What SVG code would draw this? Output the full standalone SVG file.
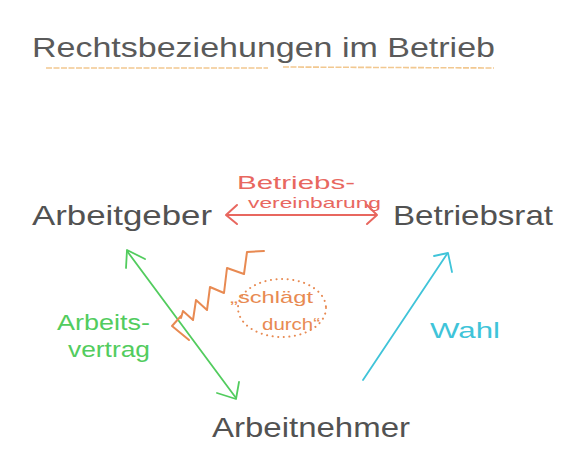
<svg xmlns="http://www.w3.org/2000/svg" width="576" height="462" viewBox="0 0 576 462">
<style>
text{font-family:"Liberation Sans","DejaVu Sans",sans-serif;}
.node{fill:#525252;font-size:28px;}
.red{stroke:#e8675f;fill:none;stroke-width:2;stroke-linecap:round;stroke-linejoin:round;}
.green{stroke:#52cc5e;fill:none;stroke-width:1.8;stroke-linecap:round;stroke-linejoin:round;}
.orange{stroke:#e88a52;fill:none;stroke-width:2;stroke-linecap:round;stroke-linejoin:round;}
.cyan{stroke:#3fc4d9;fill:none;stroke-width:1.8;stroke-linecap:round;stroke-linejoin:round;}
</style>
<rect width="576" height="462" fill="#ffffff"/>
<g id="title">
<text x="32" y="57" font-size="28" fill="#5a5a5a" textLength="463" lengthAdjust="spacingAndGlyphs">Rechtsbeziehungen im Betrieb</text>
<line x1="46" y1="68" x2="268" y2="68" stroke="#f2c890" stroke-width="1.6" stroke-dasharray="6 1.5"/>
<line x1="283" y1="67" x2="494" y2="68" stroke="#f2c890" stroke-width="1.6" stroke-dasharray="6 1.5"/>
</g>
<g id="arbeitgeber"><text class="node" x="32" y="225" textLength="180" lengthAdjust="spacingAndGlyphs">Arbeitgeber</text></g>
<g id="betriebsrat"><text class="node" x="393" y="225" textLength="160" lengthAdjust="spacingAndGlyphs">Betriebsrat</text></g>
<g id="arbeitnehmer"><text class="node" x="212" y="437" textLength="198" lengthAdjust="spacingAndGlyphs">Arbeitnehmer</text></g>
<g id="connectors">
<g id="betriebsvereinbarung">
<line class="red" x1="227" y1="215" x2="376" y2="215"/>
<polyline class="red" points="237,205 226,215 237,224"/>
<polyline class="red" points="367,205 377,215 367,224"/>
<text x="237" y="189" font-size="19" fill="#e8675f" textLength="118" lengthAdjust="spacingAndGlyphs">Betriebs-</text>
<text x="248" y="208" font-size="15" fill="#e8675f" textLength="133" lengthAdjust="spacingAndGlyphs">vereinbarung</text>
</g>
<g id="arbeitsvertrag">
<line class="green" x1="127" y1="251" x2="236" y2="398"/>
<polyline class="green" points="126,268 127,250 145,259"/>
<polyline class="green" points="217,393 236,399 239,382"/>
<text x="57" y="330" font-size="22" fill="#52cc5e" textLength="93" lengthAdjust="spacingAndGlyphs">Arbeits-</text>
<text x="68" y="357" font-size="22" fill="#52cc5e" textLength="82" lengthAdjust="spacingAndGlyphs">vertrag</text>
</g>
<g id="schlaegt-durch">
<polyline class="orange" points="264,251 247,252 244,274 227,268 224,293 210,287 207,310 196,300 193,320 183,311 181,318"/>
<polyline class="orange" points="181,316 172,326 189,340"/>
<ellipse cx="282" cy="308" rx="44" ry="29" fill="none" stroke="#e88a52" stroke-width="2" stroke-dasharray="0.1 5.5" stroke-linecap="round"/>
<text x="230" y="303" font-size="17" fill="#e88a52" textLength="83" lengthAdjust="spacingAndGlyphs">„schlägt</text>
<text x="262" y="330" font-size="17" fill="#e88a52" textLength="58" lengthAdjust="spacingAndGlyphs">durch“</text>
</g>
<g id="wahl">
<line class="cyan" x1="363" y1="380" x2="447" y2="254"/>
<polyline class="cyan" points="434,256 448,253 452,272"/>
<text x="430" y="338" font-size="22" fill="#3fc4d9" textLength="70" lengthAdjust="spacingAndGlyphs">Wahl</text>
</g>
</g>
</svg>
